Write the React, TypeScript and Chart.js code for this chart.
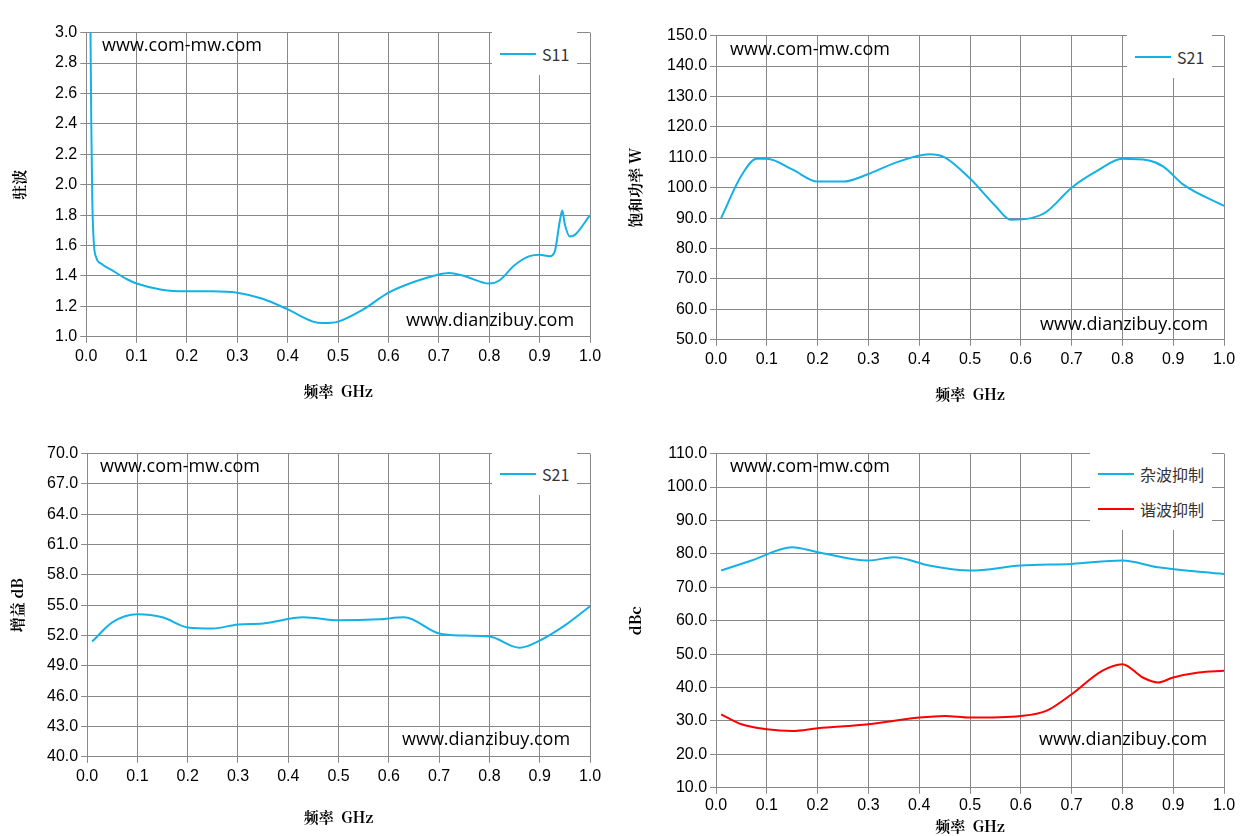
import React, { useEffect, useRef } from "react";
import { Chart, registerables } from "chart.js";
Chart.register(...registerables);

const s11X = [0.008, 0.01, 0.012, 0.015, 0.02, 0.03, 0.05, 0.08, 0.1, 0.15, 0.2, 0.25, 0.3, 0.35, 0.4, 0.45, 0.47, 0.5, 0.55, 0.6, 0.65, 0.7, 0.72, 0.75, 0.8, 0.82, 0.85, 0.88, 0.9, 0.92, 0.93, 0.94, 0.945, 0.95, 0.96, 0.97, 1.0];
const s11Y = [3.2, 2.4, 1.9, 1.62, 1.52, 1.48, 1.44, 1.38, 1.35, 1.31, 1.30, 1.30, 1.29, 1.25, 1.18, 1.10, 1.09, 1.10, 1.18, 1.29, 1.36, 1.41, 1.42, 1.40, 1.35, 1.37, 1.47, 1.53, 1.54, 1.53, 1.56, 1.76, 1.83, 1.74, 1.66, 1.67, 1.80];

const powX = [0.01, 0.05, 0.08, 0.1, 0.15, 0.2, 0.25, 0.3, 0.35, 0.42, 0.45, 0.5, 0.55, 0.58, 0.62, 0.65, 0.7, 0.75, 0.8, 0.85, 0.88, 0.92, 1.0];
const powY = [90, 104, 109.5, 109.5, 106, 102, 102, 104.5, 108, 111, 110, 103, 94, 89.5, 90, 92, 100, 105.5, 109.5, 109, 107, 101, 94];

const gainX = [0.01, 0.05, 0.1, 0.15, 0.2, 0.25, 0.3, 0.35, 0.43, 0.5, 0.58, 0.63, 0.7, 0.75, 0.8, 0.86, 0.9, 0.95, 1.0];
const gainY = [51.4, 53.3, 54.1, 53.8, 52.8, 52.7, 53.1, 53.2, 53.8, 53.5, 53.6, 53.8, 52.2, 52.0, 51.9, 50.8, 51.5, 53.0, 54.9];

const spurX = [0.01, 0.07, 0.15, 0.2, 0.3, 0.35, 0.42, 0.5, 0.6, 0.7, 0.8, 0.87, 1.0];
const spurY = [75, 78, 82, 80.5, 78, 79, 76.5, 75, 76.5, 77, 78, 76, 74];
const harmX = [0.01, 0.05, 0.1, 0.15, 0.2, 0.3, 0.4, 0.45, 0.5, 0.6, 0.65, 0.7, 0.76, 0.8, 0.84, 0.87, 0.9, 0.95, 1.0];
const harmY = [32, 29, 27.5, 27, 27.8, 29, 31, 31.5, 31, 31.5, 33, 38, 45, 47, 43, 41.5, 43, 44.5, 45];

const xLabel = "频率  GHz";
const BLUE = "#14b1e7";
const RED = "#ff0000";

type Cfg = {
  series: { x: number[]; y: number[]; color: string }[];
  yMin: number; yMax: number; yStep: number; yDec: number; yTitle: string;
  yPadTop: number; yPadBottom: number; titlePad: number; tickPad: number;
};

function pts(x: number[], y: number[]) { return x.map((v, i) => ({ x: v, y: y[i] })); }

function Panel({ cfg, style }: { cfg: Cfg; style: React.CSSProperties }) {
  const ref = useRef<HTMLCanvasElement>(null);
  useEffect(() => {
    const tickFont = { family: "'Liberation Sans', sans-serif", size: 16 };
    const titleFont = { family: "'Noto Serif CJK SC', 'Noto Sans CJK SC', serif", size: 15, weight: "bold" as const };
    const ch = new Chart(ref.current!, {
      type: "line",
      data: {
        datasets: cfg.series.map((s) => ({
          data: pts(s.x, s.y), borderColor: s.color, borderWidth: 2, pointRadius: 0,
          cubicInterpolationMode: "monotone" as const, fill: false,
        })),
      },
      options: {
        animation: false, responsive: true, maintainAspectRatio: false,
        plugins: { legend: { display: false }, tooltip: { enabled: false } },
        layout: { padding: { right: 20, top: 10, left: 0 } },
        scales: {
          x: {
            type: "linear", min: 0, max: 1,
            ticks: { stepSize: 0.1, color: "#000", font: tickFont, callback: (v: any) => Number(v).toFixed(1), padding: cfg.tickPad },
            grid: { color: "#888", tickLength: 6 }, border: { color: "#888" },
            title: { display: true, text: xLabel, color: "#000", font: titleFont, padding: { top: cfg.titlePad, bottom: 0 } },
          },
          y: {
            min: cfg.yMin, max: cfg.yMax,
            ticks: { stepSize: cfg.yStep, color: "#000", font: tickFont, callback: (v: any) => Number(v).toFixed(cfg.yDec) },
            grid: { color: "#888", tickLength: 6 }, border: { color: "#888" },
            title: { display: true, text: cfg.yTitle, color: "#000", font: titleFont, padding: { top: cfg.yPadTop, bottom: cfg.yPadBottom } },
          },
        },
      },
    });
    return () => ch.destroy();
  }, []);
  return <div style={{ position: "absolute", ...style }}><canvas ref={ref} /></div>;
}

const wm: React.CSSProperties = { position: "absolute", fontFamily: "'Open Sans', 'Liberation Sans', sans-serif", fontSize: 18, color: "#000", whiteSpace: "nowrap" };

function Legend({ left, top, items }: { left: number; top: number; items: { c: string; t: string }[] }) {
  return (
    <div style={{ position: "absolute", left, top, background: "#fff", padding: "4px 8px", fontFamily: "'Noto Sans CJK SC', 'Liberation Sans', sans-serif", fontSize: 16, color: "#333" }}>
      {items.map((it, i) => (
        <div key={i} style={{ display: "flex", alignItems: "center", height: 35 }}>
          <div style={{ width: 36, height: 2, background: it.c, marginRight: 6 }} />
          <span>{it.t}</span>
        </div>
      ))}
    </div>
  );
}

export default function App() {
  return (
    <div style={{ position: "fixed", left: 0, top: 0, width: 1249, height: 836, background: "#fff" }}>
      <Panel style={{ left: 0, top: 20, width: 610, height: 380 }} cfg={{ series: [{ x: s11X, y: s11Y, color: BLUE }], yMin: 1, yMax: 3, yStep: 0.2, yDec: 1, yTitle: "驻波", yPadTop: 10, yPadBottom: 24, titlePad: 12, tickPad: 4 }} />
      <Panel style={{ left: 620, top: 23, width: 624, height: 380 }} cfg={{ series: [{ x: powX, y: powY, color: BLUE }], yMin: 50, yMax: 150, yStep: 10, yDec: 1, yTitle: "饱和功率 W", yPadTop: 6, yPadBottom: 20, titlePad: 12, tickPad: 4 }} />
      <Panel style={{ left: 0, top: 441, width: 610, height: 385 }} cfg={{ series: [{ x: gainX, y: gainY, color: BLUE }], yMin: 40, yMax: 70, yStep: 3, yDec: 1, yTitle: "增益 dB", yPadTop: 8, yPadBottom: 18, titlePad: 18, tickPad: 4 }} />
      <Panel style={{ left: 620, top: 441, width: 624, height: 394 }} cfg={{ series: [{ x: spurX, y: spurY, color: BLUE }, { x: harmX, y: harmY, color: RED }], yMin: 10, yMax: 110, yStep: 10, yDec: 1, yTitle: "dBc", yPadTop: 6, yPadBottom: 20, titlePad: 0, tickPad: 2 }} />
      <div style={{ ...wm, left: 102, top: 32 }}>www.com-mw.com</div>
      <div style={{ ...wm, left: 406, top: 307 }}>www.dianzibuy.com</div>
      <div style={{ ...wm, left: 730, top: 36 }}>www.com-mw.com</div>
      <div style={{ ...wm, left: 1040, top: 311 }}>www.dianzibuy.com</div>
      <div style={{ ...wm, left: 100, top: 453 }}>www.com-mw.com</div>
      <div style={{ ...wm, left: 402, top: 726 }}>www.dianzibuy.com</div>
      <div style={{ ...wm, left: 730, top: 453 }}>www.com-mw.com</div>
      <div style={{ ...wm, left: 1039, top: 726 }}>www.dianzibuy.com</div>
      <Legend left={492} top={32} items={[{ c: BLUE, t: "S11" }]} />
      <Legend left={1127} top={35} items={[{ c: BLUE, t: "S21" }]} />
      <Legend left={492} top={452} items={[{ c: BLUE, t: "S21" }]} />
      <Legend left={1090} top={452} items={[{ c: BLUE, t: "杂波抑制" }, { c: RED, t: "谐波抑制" }]} />
    </div>
  );
}
